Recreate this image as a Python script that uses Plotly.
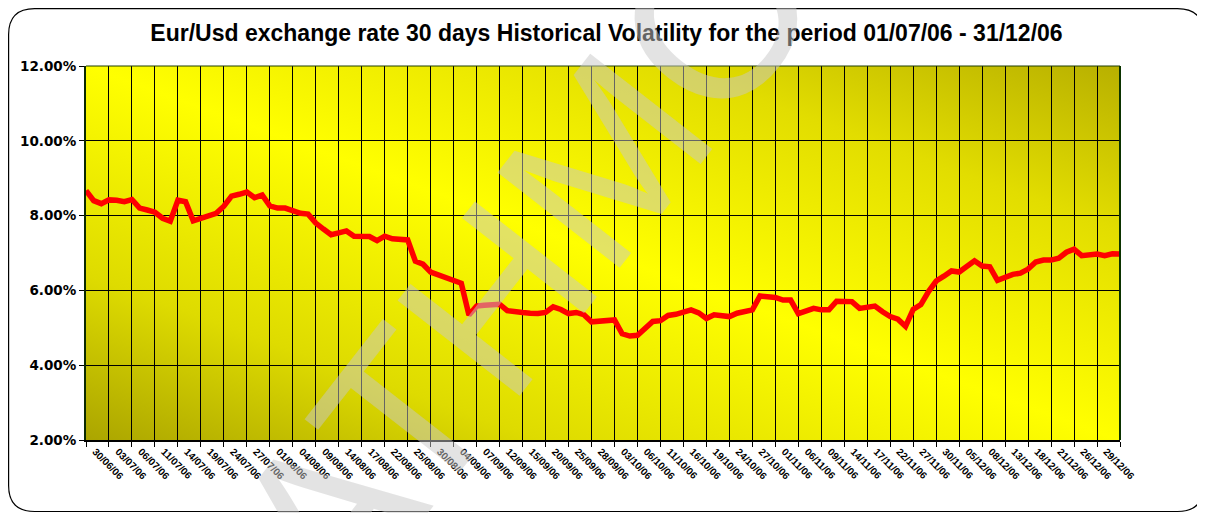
import base64
import plotly.graph_objects as go

# ---------------- data ----------------
title_text = "Eur/Usd exchange rate 30 days Historical Volatility for the period 01/07/06 - 31/12/06"

# 30-day historical volatility (%), one value per trading day
volatility = [
    8.67, 8.40, 8.32, 8.42, 8.41, 8.37, 8.43, 8.20, 8.15, 8.09,
    7.93, 7.85, 8.41, 8.37, 7.86, 7.93, 8.00, 8.06, 8.25, 8.52,
    8.57, 8.63, 8.48, 8.55, 8.26, 8.20, 8.20, 8.14, 8.06, 8.04,
    7.80, 7.64, 7.49, 7.54, 7.59, 7.45, 7.44, 7.44, 7.33, 7.45,
    7.38, 7.37, 7.35, 6.78, 6.70, 6.49, 6.42, 6.35, 6.28, 6.19,
    5.34, 5.58, 5.60, 5.61, 5.63, 5.46, 5.42, 5.41, 5.39, 5.38,
    5.41, 5.56, 5.49, 5.38, 5.41, 5.35, 5.16, 5.18, 5.19, 5.21,
    4.84, 4.78, 4.80, 4.97, 5.17, 5.19, 5.33, 5.36, 5.42, 5.48,
    5.40, 5.25, 5.35, 5.32, 5.30, 5.39, 5.43, 5.48, 5.85, 5.83,
    5.81, 5.74, 5.74, 5.38, 5.45, 5.52, 5.48, 5.48, 5.71, 5.72,
    5.70, 5.52, 5.55, 5.58, 5.43, 5.30, 5.23, 5.04, 5.49, 5.62,
    5.97, 6.25, 6.38, 6.52, 6.49, 6.64, 6.79, 6.65, 6.63, 6.27,
    6.35, 6.43, 6.46, 6.57, 6.76, 6.81, 6.81, 6.86, 7.02, 7.10,
    6.93, 6.95, 6.97, 6.93, 6.98, 6.97,
]
day_index = list(range(len(volatility)))

# category labels (one every third trading day)
date_labels = [
    "30/06/06", "03/07/06", "06/07/06", "11/07/06", "14/07/06", "19/07/06",
    "24/07/06", "27/07/06", "01/08/06", "04/08/06", "09/08/06", "14/08/06",
    "17/08/06", "22/08/06", "25/08/06", "30/08/06", "04/09/06", "07/09/06",
    "12/09/06", "15/09/06", "20/09/06", "25/09/06", "28/09/06", "03/10/06",
    "06/10/06", "11/10/06", "16/10/06", "19/10/06", "24/10/06", "27/10/06",
    "01/11/06", "06/11/06", "09/11/06", "14/11/06", "17/11/06", "22/11/06",
    "27/11/06", "30/11/06", "05/12/06", "08/12/06", "13/12/06", "18/12/06",
    "21/12/06", "26/12/06", "29/12/06",
]
label_step = 3

y_tick_values = [2, 4, 6, 8, 10, 12]
y_tick_text = ["2.00%", "4.00%", "6.00%", "8.00%", "10.00%", "12.00%"]

watermark_text = "ATHMO"

# ---------------- figure ----------------
# page body has an 8px margin, so the figure is sized to fit the 1205x513 window
OFF = 8
W, H = 1205 - OFF, 513 - OFF
ML, MR, MT, MB = 86 - OFF, 85, 66 - OFF, 73
PW, PH = W - ML - MR, H - MT - MB

label_pos = [label_step * k + 1.2 for k in range(len(date_labels))]
grid_pos = [label_step * k for k in range(len(date_labels) + 1)]

fig = go.Figure()
fig.add_trace(go.Scatter(
    x=day_index, y=volatility, mode="lines",
    line=dict(color="#ff0000", width=5.5),
    hoverinfo="skip", showlegend=False,
))

# gradient background of the plot area
svg = (
    '<svg xmlns="http://www.w3.org/2000/svg" width="1000" height="400" '
    'viewBox="0 0 1000 400" preserveAspectRatio="none">'
    '<defs><linearGradient id="g" x1="0" y1="1" x2="1" y2="0">'
    '<stop offset="0" stop-color="#aba500"/>'
    '<stop offset="0.22" stop-color="#dedb00"/>'
    '<stop offset="0.5" stop-color="#ffff00"/>'
    '<stop offset="0.78" stop-color="#e2dd00"/>'
    '<stop offset="1" stop-color="#b8b000"/>'
    '</linearGradient></defs>'
    '<rect x="0" y="0" width="1000" height="400" fill="url(#g)"/></svg>'
)
src = "data:image/svg+xml;base64," + base64.b64encode(svg.encode()).decode()
fig.add_layout_image(dict(
    source=src, xref="paper", yref="paper", x=0, y=1, sizex=1, sizey=1,
    xanchor="left", yanchor="top", sizing="stretch", layer="below",
))

# helpers: page pixel -> paper coordinate
def px2x(p):
    return (p - OFF - ML) / PW

def px2y(p):
    return (H - MB - (p - OFF)) / PH

# rounded outer frame
x0, x1 = px2x(8.6), px2x(1203.5)
y1, y0 = px2y(8.6), px2y(511.5)
rx, ry = 26 / PW, 26 / PH
path = (f"M {x0+rx},{y1} L {x1-rx},{y1} Q {x1},{y1} {x1},{y1-ry} "
        f"L {x1},{y0+ry} Q {x1},{y0} {x1-rx},{y0} L {x0+rx},{y0} "
        f"Q {x0},{y0} {x0},{y0+ry} L {x0},{y1-ry} Q {x0},{y1} {x0+rx},{y1} Z")
fig.add_shape(type="path", path=path, xref="paper", yref="paper",
              line=dict(color="#000000", width=1.2), fillcolor="rgba(0,0,0,0)",
              layer="above")

# watermark
fig.add_annotation(
    text=watermark_text, xref="paper", yref="paper",
    x=px2x(525), y=px2y(262), xanchor="center", yanchor="middle",
    showarrow=False, textangle=-52,
    font=dict(family="Liberation Sans, Arial", size=225, color="rgba(200,200,200,0.5)"),
)

fig.update_layout(
    width=W, height=H,
    margin=dict(l=ML, r=MR, t=MT, b=MB),
    paper_bgcolor="#ffffff",
    plot_bgcolor="rgba(0,0,0,0)",
    title=dict(
        text=f"<b>{title_text}</b>", x=0.5, xanchor="center",
        y=1 - (33 - OFF) / H, yanchor="middle", yref="container",
        font=dict(family="Liberation Sans, Arial", size=23, color="#000000"),
    ),
    xaxis=dict(
        range=[0, len(volatility) - 1],
        tickmode="array", tickvals=label_pos, ticktext=date_labels,
        tickangle=45, ticks="", showgrid=False, zeroline=False,
        tickfont=dict(family="Liberation Sans, Arial", size=10, color="#000000", weight="bold"),
        showline=True, linecolor="#000000", linewidth=2, mirror=False,
        minor=dict(tickmode="array", tickvals=grid_pos, showgrid=True,
                   gridcolor="#000000", gridwidth=1, ticks="outside",
                   ticklen=5, tickcolor="#000000", tickwidth=1),
    ),
    yaxis=dict(
        range=[2, 12], tickmode="array", tickvals=y_tick_values, ticktext=y_tick_text,
        showgrid=True, gridcolor="#000000", gridwidth=1, zeroline=False,
        ticks="outside", ticklen=5, tickcolor="#000000",
        tickfont=dict(family="DejaVu Sans", size=13.5, color="#000000", weight="bold"),
        showline=True, linecolor="#0b2a00", linewidth=2, mirror=False,
    ),
)

# plot-area border on top and right
fig.add_shape(type="line", xref="paper", yref="paper", x0=0, x1=1, y0=1, y1=1,
              line=dict(color="#1f3d00", width=1))
fig.add_shape(type="line", xref="paper", yref="paper", x0=1, x1=1, y0=0, y1=1,
              line=dict(color="#0b3300", width=2))

fig.write_html("out.html")
